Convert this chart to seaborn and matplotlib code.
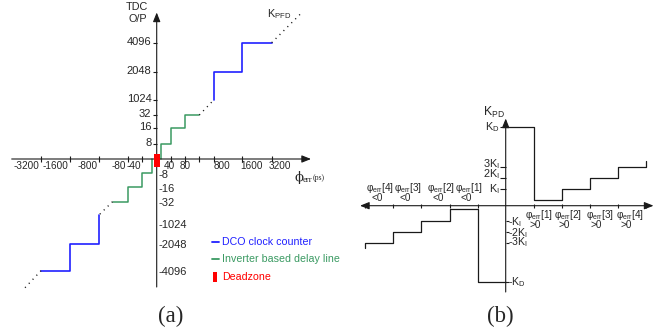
import numpy as np
import matplotlib
matplotlib.use("Agg")
import matplotlib.pyplot as plt
import seaborn as sns
from matplotlib.lines import Line2D
from matplotlib.patches import Rectangle

# ------------------------------------------------------------------ data (a)
x_ticks_neg = [-3200, -1600, -800, -80, -40]
x_labels_neg = ["-3200", "-1600", "-800", "-80", "-40"]
x_ticks_pos = [40, 80, 160, 800, 1600, 3200]
x_labels_pos = ["40", "80", "", "800", "1600", "3200"]
y_ticks_pos = [8, 16, 32, 1024, 2048, 4096]
y_ticks_neg = [-8, -16, -32, -1024, -2048, -4096]

# inverter based delay line (fine TDC) steps
inv_x_pos = [12, 12, 40, 80, 160]
inv_y_pos = [0, 8, 16, 32, 32]
inv_x_neg = [-12, -12, -40, -80, -160]
inv_y_neg = [0, -8, -16, -32, -32]
# DCO clock counter (coarse TDC) steps
dco_x_pos = [800, 800, 1600, 3200]
dco_y_pos = [1024, 2048, 4096, 4096]
dco_x_neg = [-800, -800, -1600, -3200]
dco_y_neg = [-650, -2048, -4096, -4096]
# dotted continuation segments
gap_pos_x, gap_pos_y = [160, 800], [32, 1024]
gap_neg_x, gap_neg_y = [-160, -800], [-32, -650]
ext_pos_x, ext_pos_y = [3200, 6400], [4096, 8192]
ext_neg_x, ext_neg_y = [-3200, -5000], [-4096, -6800]
# dead zone
deadzone_x = [-7, 9]
deadzone_y = [-4.4, 2.6]

# ------------------------------------------------------------------ data (b)
KD = 6.0
kpd_x_pos = [0, 1, 2, 3, 4, 5, 5]
kpd_y_pos = [KD, 0.3, 1, 2, 3, 3, 3.55]
kpd_x_neg = [0, -1, -2, -3, -4, -5, -5]
kpd_y_neg = [-KD, -0.3, -1, -2, -3, -3, -3.45]
phase_idx = [1, 2, 3, 4]
ytick_b_pos = [KD, 3, 2, 1]
ytick_b_pos_lbl = ["K$_{\\rm D}$", "3K$_{\\rm I}$", "2K$_{\\rm I}$", "K$_{\\rm I}$"]
ytick_b_neg = [-1, -2, -3, -KD]
ytick_b_neg_lbl = ["-K$_{\\rm I}$", "-2K$_{\\rm I}$", "-3K$_{\\rm I}$", "-K$_{\\rm D}$"]

# ------------------------------------------------------------------ style
sns.set_theme(style="white")
plt.rcParams["font.family"] = ["Liberation Sans", "DejaVu Sans"]
plt.rcParams["mathtext.fontset"] = "custom"
plt.rcParams["mathtext.rm"] = "Liberation Sans"
plt.rcParams["mathtext.it"] = "Liberation Sans:italic"
plt.rcParams["mathtext.bf"] = "Liberation Sans:bold"

BLUE = "#2020ff"
GREEN = "#3a9a62"
RED = "#ff0000"
W, H = 665, 335
PT = 0.72  # points per pixel at 100 dpi

fig = plt.figure(figsize=(6.65, 3.35), dpi=100)


def rect(x0, y0, x1, y1):
    return [x0 / W, 1 - y1 / H, (x1 - x0) / W, (y1 - y0) / H]


def ftxt(px, py, s, **kw):
    fig.text(px / W, 1 - py / H, s, **kw)


def piecewise(vals, outs):
    vals = np.asarray(vals, float)
    outs = np.asarray(outs, float)

    def make(a, b):
        s0 = (b[1] - b[0]) / (a[1] - a[0])
        s1 = (b[-1] - b[-2]) / (a[-1] - a[-2])

        def f(v):
            v = np.asarray(v, float)
            r = np.interp(v, a, b)
            r = np.where(v < a[0], b[0] + (v - a[0]) * s0, r)
            r = np.where(v > a[-1], b[-1] + (v - a[-1]) * s1, r)
            return r
        return f
    return make(vals, outs), make(outs, vals)


# ================================================================== panel (a)
axa = fig.add_axes(rect(0, 0, 330, 300))
ax_anchor_v = [-6400, -3200, -1600, -800, -160, -80, -40, 0, 40, 80, 160, 800, 1600, 3200, 6400]
ax_anchor_p = [12, 41, 70, 99, 112.5, 127.7, 142.3, 156.7, 170.7, 185, 199.3, 213.7, 242.3, 271.7, 300.7]
ay_anchor_v = [-8192, -4096, -2048, -1024, -32, -16, -8, 0, 8, 16, 32, 1024, 2048, 4096, 8192]
ay_anchor_p = [297, 270.7, 244, 223, 201.7, 187.4, 173.4, 159, 144.3, 128.3, 115, 100, 71.7, 42.7, 13.7]
fxa, ixa = piecewise(ax_anchor_v, ax_anchor_p)
fya, iya = piecewise(ay_anchor_v, [-p for p in ay_anchor_p])
axa.set_xscale("function", functions=(fxa, ixa))
axa.set_yscale("function", functions=(fya, iya))
axa.set_xlim(float(ixa(0)), float(ixa(330)))
axa.set_ylim(float(iya(-300)), float(iya(0)))
axa.axis("off")

arrow_kw = dict(arrowstyle="-|>,head_length=0.5,head_width=0.2", color="k",
                lw=0.8, mutation_scale=11, shrinkA=0, shrinkB=0)
axa.annotate("", xy=(float(ixa(311)), 0), xytext=(float(ixa(11.7)), 0), arrowprops=arrow_kw)
axa.annotate("", xy=(0, float(iya(-12.5))), xytext=(0, float(iya(-287))), arrowprops=arrow_kw)

# x ticks and labels
axa.plot(x_ticks_neg + x_ticks_pos, [0] * (len(x_ticks_neg) + len(x_ticks_pos)),
         ls="none", marker="|", ms=4, mew=0.8, color="k")
for v, s in zip(x_ticks_neg, x_labels_neg):
    axa.annotate(s, xy=(v, 0), xytext=(-1.5 * PT, -7 * PT), textcoords="offset points",
                 ha="right", va="center", fontsize=7.2)
x_lbl_ha_pos = ["center", "center", "center", "left", "left", "left"]
x_lbl_dx_pos = [-1, 0.5, 0, 0, -2, -3]
for v, s, ha, dx in zip(x_ticks_pos, x_labels_pos, x_lbl_ha_pos, x_lbl_dx_pos):
    axa.annotate(s, xy=(v, 0), xytext=(dx * PT, -7 * PT), textcoords="offset points",
                 ha=ha, va="center", fontsize=7.2)
# y ticks and labels
axa.plot([0] * len(y_ticks_pos), y_ticks_pos, ls="none", marker=0, ms=3.2, mew=0.8, color="k")
for v in y_ticks_pos:
    axa.annotate(str(v), xy=(0, v), xytext=(-5.2 * PT, 1 * PT), textcoords="offset points",
                 ha="right", va="center", fontsize=8)
for v in y_ticks_neg:
    axa.annotate(str(v), xy=(0, v), xytext=(1.6 * PT, -1.5 * PT), textcoords="offset points",
                 ha="left", va="center", fontsize=8)

# step curves
for xs, ys in [(inv_x_pos, inv_y_pos), (inv_x_neg, inv_y_neg)]:
    sns.lineplot(x=xs, y=ys, ax=axa, color=GREEN, lw=1.1, sort=False,
                 estimator=None, drawstyle="steps-post")
for xs, ys in [(dco_x_pos, dco_y_pos), (dco_x_neg, dco_y_neg)]:
    sns.lineplot(x=xs, y=ys, ax=axa, color=BLUE, lw=1.2, sort=False,
                 estimator=None, drawstyle="steps-post")
for xs, ys in [(gap_pos_x, gap_pos_y), (gap_neg_x, gap_neg_y),
               (ext_pos_x, ext_pos_y), (ext_neg_x, ext_neg_y)]:
    sns.lineplot(x=xs, y=ys, ax=axa, color="k", lw=1.0, sort=False,
                 estimator=None, linestyle=(0, (0.8, 3.2)))
axa.add_patch(Rectangle((deadzone_x[0], deadzone_y[0]), deadzone_x[1] - deadzone_x[0],
                        deadzone_y[1] - deadzone_y[0], color=RED, zorder=5, lw=0))

# free texts (a)
ftxt(137, 7.5, "TDC", ha="center", va="center", fontsize=7.8)
ftxt(137.5, 19.5, "O/P", ha="center", va="center", fontsize=7.8)
ftxt(267, 14.5, "K$_{\\rm PFD}$", ha="left", va="center", fontsize=7.8)
ftxt(294.5, 177, "ϕ", ha="left", va="center", fontsize=9.5, family=["DejaVu Serif"])
ftxt(302.5, 179.5, "err", ha="left", va="center", fontsize=6.2, family=["Liberation Serif"])
ftxt(312.5, 178, "(ps)", ha="left", va="center", fontsize=5.6, family=["Liberation Serif"])

# legend (a)
fig.add_artist(Line2D([211.7 / W, 218.5 / W], [1 - 242.3 / H] * 2, color=BLUE, lw=1.3))
fig.add_artist(Line2D([211.7 / W, 218.5 / W], [1 - 258.7 / H] * 2, color=GREEN, lw=1.3))
fig.add_artist(Rectangle((213.3 / W, 1 - 281.7 / H), 4 / W, 10 / H, color=RED, lw=0))
ftxt(222.5, 242.3, "DCO clock counter", ha="left", va="center", fontsize=7.7, color=BLUE)
ftxt(222.5, 258.7, "Inverter based delay line", ha="left", va="center", fontsize=7.7, color=GREEN)
ftxt(222.5, 276.7, "Deadzone", ha="left", va="center", fontsize=7.7, color=RED)

# ================================================================== panel (b)
axb = fig.add_axes(rect(340, 90, 665, 300))
OX, OY, UX = 505.7, 205.7, 28.1
by_v = [-KD, -4, -3, -2, -1, -0.3, 0, 0.3, 1, 2, 3, 4, KD]
by_p = [-76, -48.6, -37.6, -26.6, -15.3, -3.6, 0, 5.7, 17, 28, 39, 50, 78.4]
fyb, iyb = piecewise(by_v, by_p)
axb.set_yscale("function", functions=(fyb, iyb))
axb.set_xlim((340 - OX) / UX, (665 - OX) / UX)
axb.set_ylim(float(iyb(OY - 300)), float(iyb(OY - 90)))
axb.axis("off")

axb.annotate("", xy=((653.5 - OX) / UX, 0), xytext=((360 - OX) / UX, 0),
             arrowprops=dict(arrow_kw, arrowstyle="<|-|>,head_length=0.5,head_width=0.2"))
axb.annotate("", xy=(0, float(iyb(OY - 118.5))), xytext=(0, float(iyb(OY - 292))),
             arrowprops=arrow_kw)

ticks_b = [-5, -4, -3, -2, -1, 1, 2, 3, 4, 5]
axb.plot(ticks_b, [0] * len(ticks_b), ls="none", marker="|", ms=3.5, mew=0.8, color="k")
axb.plot([0] * len(ytick_b_pos), ytick_b_pos, ls="none", marker=0, ms=4, mew=0.8, color="k")
axb.plot([0] * len(ytick_b_neg), ytick_b_neg, ls="none", marker=1, ms=2, mew=0.8, color="k")

for xs, ys in [(kpd_x_pos, kpd_y_pos), (kpd_x_neg, kpd_y_neg)]:
    sns.lineplot(x=xs, y=ys, ax=axb, color="k", lw=0.9, sort=False,
                 estimator=None, drawstyle="steps-post")

lbl_dy_pos = [0, -3, -3.5, 0]
for v, s, dy in zip(ytick_b_pos, ytick_b_pos_lbl, lbl_dy_pos):
    axb.annotate(s, xy=(0, v), xytext=(-6 * PT, -dy * PT), textcoords="offset points",
                 ha="right", va="center", fontsize=7.8)
lbl_dy_neg = [1.5, 0.5, -1, 0]
for v, s, dy in zip(ytick_b_neg, ytick_b_neg_lbl, lbl_dy_neg):
    axb.annotate(s, xy=(0, v), xytext=(2.5 * PT, -dy * PT), textcoords="offset points",
                 ha="left", va="center", fontsize=7.6)

lbl_k_right = [1.18, 2.2, 3.35, 4.42]
lbl_k_left = [-1.3, -2.3, -3.47, -4.47]
for p, kr, kl in zip(phase_idx, lbl_k_right, lbl_k_left):
    top = "φ$_{\\rm err}$[%d]" % p
    axb.annotate(top, xy=(kr, 0), xytext=(0, -9.5 * PT), textcoords="offset points",
                 ha="center", va="center", fontsize=7.2)
    axb.annotate(">0", xy=(kr - 0.12, 0), xytext=(0, -19.6 * PT), textcoords="offset points",
                 ha="center", va="center", fontsize=7.2)
    axb.annotate(top, xy=(kl, 0), xytext=(0, 17.4 * PT), textcoords="offset points",
                 ha="center", va="center", fontsize=7.2)
    axb.annotate("<0", xy=(kl - 0.1, 0), xytext=(0, 7.4 * PT), textcoords="offset points",
                 ha="center", va="center", fontsize=7.2)

ftxt(483, 112, "K$_{\\rm PD}$", ha="left", va="center", fontsize=8.8)

# captions
ftxt(171, 316, "(a)", ha="center", va="center", fontsize=16.5, family=["Liberation Serif"])
ftxt(500, 316, "(b)", ha="center", va="center", fontsize=16.5, family=["Liberation Serif"])

fig.savefig("out.png", dpi=100)
